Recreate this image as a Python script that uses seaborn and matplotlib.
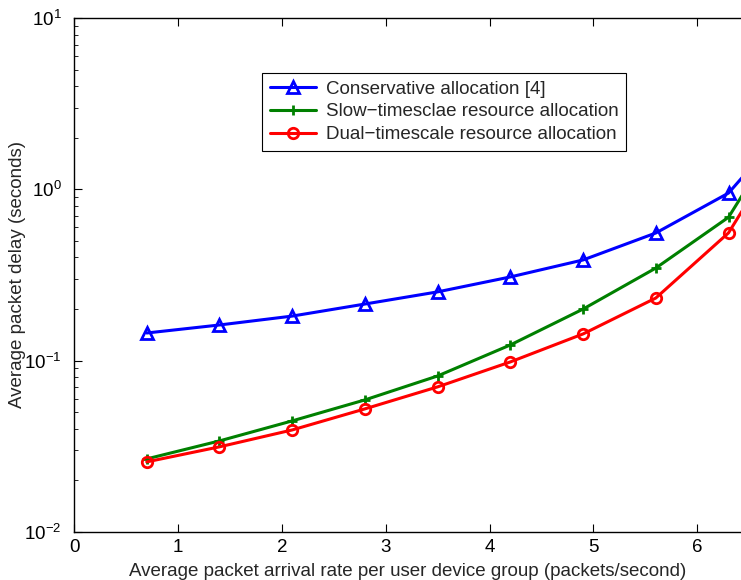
import matplotlib
matplotlib.use("Agg")
import matplotlib.pyplot as plt
import pandas as pd
import seaborn as sns
from matplotlib.ticker import LogLocator, NullFormatter


arrival_rate = [0.7, 1.4, 2.1, 2.8, 3.5, 4.2, 4.9, 5.6, 6.3, 7.0]

conservative = [0.145, 0.1615, 0.182, 0.214, 0.252, 0.308, 0.387, 0.556, 0.951, 2.9]
slow_timescale = [0.0267, 0.0340, 0.0445, 0.0590, 0.0814, 0.1235, 0.200, 0.347, 0.687, 3.3]
dual_timescale = [0.02565, 0.0314, 0.0394, 0.0523, 0.0703, 0.0983, 0.1432, 0.232, 0.557, 2.7]

series_labels = [
    "Conservative allocation [4]",
    "Slow\u2212timesclae resource allocation",
    "Dual\u2212timescale resource allocation",
]

FONT_SIZE = 13.5


def main() -> None:
    sns.set_style("ticks")
    plt.rcParams["font.family"] = ["Liberation Sans", "DejaVu Sans"]
    plt.rcParams["mathtext.fontset"] = "custom"
    plt.rcParams["mathtext.rm"] = "Liberation Sans"

    fig = plt.figure(figsize=(7.41, 5.8), dpi=100)
    ax = fig.add_axes([0.0999, 0.0828, 0.9001, 0.8862])

    styles = [
        (conservative, "#0000ff", "^", 9),
        (slow_timescale, "#008000", "+", 7),
        (dual_timescale, "#ff0000", "o", 7.5),
    ]
    for (values, color, marker, msize), label in zip(styles, series_labels):
        df = pd.DataFrame({"rate": arrival_rate, "delay": values})
        sns.lineplot(
            data=df, x="rate", y="delay", ax=ax, color=color, label=label,
            linewidth=2.2, marker=marker, markersize=msize,
            markerfacecolor="none", markeredgecolor=color, markeredgewidth=2,
        )

    ax.set_yscale("log")
    ax.set_ylim(1e-2, 1e1)
    ax.set_xlim(0, 6.42)
    ax.set_xticks(range(0, 7))
    ax.yaxis.set_major_locator(LogLocator(base=10, numticks=10))
    ax.yaxis.set_minor_locator(LogLocator(base=10, subs=range(2, 10), numticks=20))
    ax.yaxis.set_minor_formatter(NullFormatter())

    ax.spines["right"].set_visible(False)
    for side in ["left", "top", "bottom"]:
        ax.spines[side].set_linewidth(1.0)
        ax.spines[side].set_color("black")
    ax.tick_params(axis="both", which="both", direction="in", top=True, right=False,
                   labelsize=FONT_SIZE, colors="black")
    ax.tick_params(axis="both", which="major", length=6, width=0.8)
    ax.tick_params(axis="y", which="minor", length=3, width=0.6)
    ax.tick_params(axis="x", which="major", pad=5)
    ax.tick_params(axis="y", which="major", pad=9)

    ax.set_xlabel("Average packet arrival rate per user device group (packets/second)",
                  fontsize=FONT_SIZE, labelpad=5)
    ax.set_ylabel("Average packet delay (seconds)", fontsize=FONT_SIZE)
    ax.yaxis.set_label_coords(-0.072, 0.5)

    legend = ax.legend(loc="upper left", bbox_to_anchor=(0.282, 0.893), fontsize=FONT_SIZE,
                       frameon=True, fancybox=False, handlelength=2.5,
                       borderpad=0.4, labelspacing=0.3, handletextpad=0.5,
                       borderaxespad=0)
    legend.get_frame().set_edgecolor("black")
    legend.get_frame().set_linewidth(0.8)
    legend.get_frame().set_alpha(1)

    fig.patch.set_facecolor("white")
    fig.savefig("out.png", dpi=100)


main()
